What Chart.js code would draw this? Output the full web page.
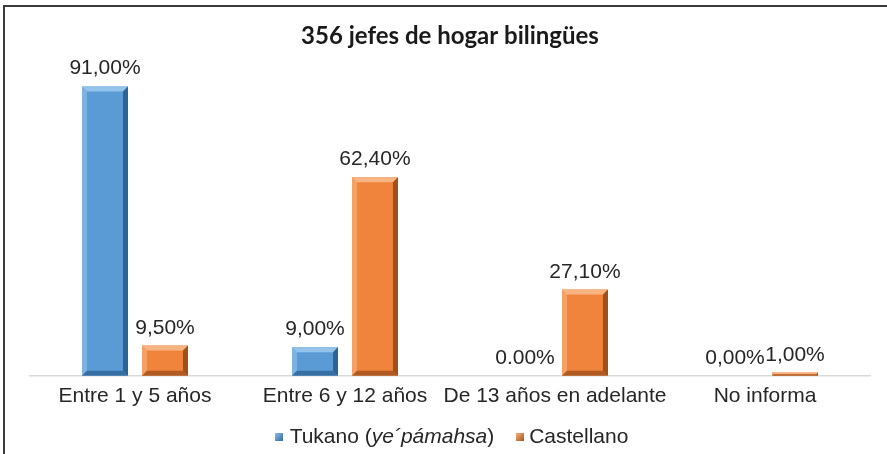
<!DOCTYPE html>
<html>
<head>
<meta charset="utf-8">
<script src="https://cdn.jsdelivr.net/npm/chart.js@4.4.1/dist/chart.umd.min.js"></script>
<style>
  body { margin: 0; background: #fff; }
  #wrap { position: relative; width: 887px; height: 454px; }
  #frame { position: absolute; left: 3px; top: 5px; width: 884px; height: 449px;
           border-top: 2px solid #3a3a3a; border-left: 2px solid #3a3a3a; box-sizing: border-box; pointer-events: none; }
  #legend { position: absolute; top: 424px; left: 8px; width: 887px; text-align: center;
            font: 21px "Liberation Sans", Arial, sans-serif; color: #262626; }
  #legend span.box { display: inline-block; width: 8px; height: 8px; margin-right: 7px; vertical-align: 2px; }
  #legend .item { margin: 0 8px; }
</style>
</head>
<body>
<div id="wrap">
  <canvas id="myChart" width="887" height="454"></canvas>
  <div id="frame"></div>
  <div id="legend">
    <span class="item"><span class="box" style="background:linear-gradient(135deg,#8cbde6,#2f6a9e)"></span>Tukano (<i>ye´pámahsa</i>)</span>
    <span class="item"><span class="box" style="background:linear-gradient(135deg,#f7b27e,#a65418);margin-right:5px"></span>Castellano</span>
  </div>
</div>
<script>
const categories = ['Entre 1 y 5 años', 'Entre 6 y 12 años', 'De 13 años en adelante', 'No informa'];
const tukano = [91, 9, 0, 0];
const castellano = [9.5, 62.4, 27.1, 1];
const tukanoLabels = ['91,00%', '9,00%', '0.00%', '0,00%'];
const castellanoLabels = ['9,50%', '62,40%', '27,10%', '1,00%'];

const faces = ['#5b9bd5', '#f0843c'];
const lights = ['#93c2ea', '#f8b482'];
const shades = ['#2c6496', '#a1501a'];

// bevel look + value labels
const bevelPlugin = {
    id: 'bevel',
    afterDatasetsDraw(chart) {
        const ctx = chart.ctx;
        chart.data.datasets.forEach((ds, di) => {
            const meta = chart.getDatasetMeta(di);
            meta.data.forEach((bar, i) => {
                const l = bar.x - bar.width / 2, r = bar.x + bar.width / 2;
                const t = bar.y, b = bar.base;
                const h = b - t;
                if (h > 0.5) {
                    const k = Math.min(5, h / 2);
                    ctx.save();
                    // top
                    ctx.fillStyle = lights[di];
                    ctx.beginPath();
                    ctx.moveTo(l, t); ctx.lineTo(r, t); ctx.lineTo(r - k, t + k); ctx.lineTo(l + k, t + k);
                    ctx.fill();
                    // left
                    ctx.globalAlpha = 0.6;
                    ctx.beginPath();
                    ctx.moveTo(l, t); ctx.lineTo(l + k, t + k); ctx.lineTo(l + k, b - k); ctx.lineTo(l, b);
                    ctx.fill();
                    // right
                    ctx.globalAlpha = 1;
                    ctx.fillStyle = shades[di];
                    ctx.beginPath();
                    ctx.moveTo(r, t); ctx.lineTo(r, b); ctx.lineTo(r - k, b - k); ctx.lineTo(r - k, t + k);
                    ctx.fill();
                    // bottom
                    ctx.globalAlpha = 0.8;
                    ctx.beginPath();
                    ctx.moveTo(l, b); ctx.lineTo(r, b); ctx.lineTo(r - k, b - k); ctx.lineTo(l + k, b - k);
                    ctx.fill();
                    ctx.restore();
                }
                const labels = di === 0 ? tukanoLabels : castellanoLabels;
                ctx.save();
                ctx.font = '21px "Liberation Sans", Arial, sans-serif';
                ctx.fillStyle = '#262626';
                ctx.textAlign = 'center';
                ctx.textBaseline = 'alphabetic';
                ctx.fillText(labels[i], bar.x, t - 12);
                ctx.restore();
            });
        });
    }
};

const ctx = document.getElementById('myChart');

new Chart(ctx, {
    type: 'bar',
    data: {
        labels: categories,
        datasets: [{
            label: 'Tukano (ye´pámahsa)',
            data: tukano,
            backgroundColor: faces[0],
            borderWidth: 0,
            categoryPercentage: 0.571,
            barPercentage: 0.767
        }, {
            label: 'Castellano',
            data: castellano,
            backgroundColor: faces[1],
            borderWidth: 0,
            categoryPercentage: 0.571,
            barPercentage: 0.767
        }]
    },
    options: {
        responsive: false,
        animation: false,
        devicePixelRatio: 1,
        layout: { padding: { left: 30, right: 17, top: 0, bottom: 37 } },
        plugins: {
            legend: { display: false },
            tooltip: { enabled: false },
            title: {
                display: true,
                text: '356 jefes de hogar bilingües',
                color: '#1a1a1a',
                font: { family: 'Lato', weight: 'bold', size: 24 },
                padding: { top: 22, bottom: 7 }
            }
        },
        scales: {
            x: {
                grid: { display: false, drawTicks: false },
                border: { color: '#d9d9d9', width: 1.5 },
                ticks: {
                    color: '#262626',
                    padding: 8,
                    maxRotation: 0,
                    minRotation: 0,
                    autoSkip: false,
                    font: { family: '"Liberation Sans", Arial, sans-serif', size: 21 }
                }
            },
            y: {
                display: false,
                min: 0,
                max: 100
            }
        }
    },
    plugins: [bevelPlugin]
});
</script>
</body>
</html>
